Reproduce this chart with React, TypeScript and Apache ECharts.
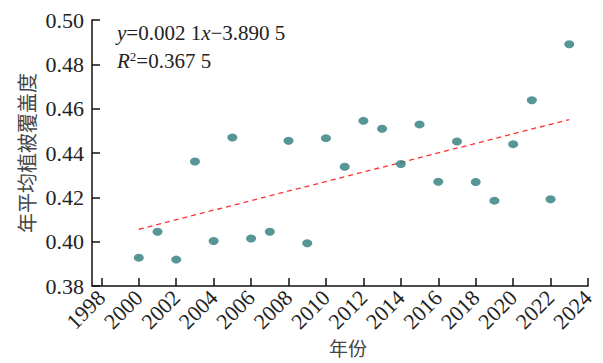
import React, { useEffect, useRef } from "react";
import * as echarts from "echarts";

const years = [2000, 2001, 2002, 2003, 2004, 2005, 2006, 2007, 2008, 2009, 2010, 2011, 2012, 2013, 2014, 2015, 2016, 2017, 2018, 2019, 2020, 2021, 2022, 2023];
const coverage = [0.3928, 0.4045, 0.3919, 0.4362, 0.4003, 0.447, 0.4014, 0.4045, 0.4455, 0.3993, 0.4467, 0.4338, 0.4545, 0.4509, 0.435, 0.4529, 0.427, 0.4452, 0.4269, 0.4185, 0.444, 0.4638, 0.4191, 0.4891];
const trendYears = [2000, 2023];
const trendValues = [0.4056, 0.4551];
const xTickLabels = [1998, 2000, 2002, 2004, 2006, 2008, 2010, 2012, 2014, 2016, 2018, 2020, 2022, 2024];
const equationText = "{i|y}=0.002 1{i|x}\u22123.890 5";
const r2Text = "{i|R}{sup|2}=0.367 5";

export default function App() {
  const ref = useRef<HTMLDivElement>(null);
  useEffect(() => {
    if (!ref.current) return;
    const chart = echarts.init(ref.current, null, { renderer: "svg" });
    const serif = "'Liberation Serif', 'Times New Roman', serif";
    const cjk = "'Noto Sans CJK SC', sans-serif";
    chart.setOption({
      animation: false,
      grid: { left: 84, right: 15, top: 12, bottom: 77, containLabel: false, outerBoundsMode: "none" },
      xAxis: {
        type: "value",
        min: 1997.5,
        max: 2024,
        name: "年份",
        nameLocation: "middle",
        nameGap: 52,
        nameMoveOverlap: false,
        nameTextStyle: { fontFamily: cjk, fontSize: 19, color: "#444", padding: [0, 0, 0, 16] },
        axisLine: { show: true, lineStyle: { color: "#111", width: 1.5 } },
        axisTick: { show: true, inside: true, length: 8, customValues: xTickLabels, lineStyle: { color: "#111", width: 1.5 } },
        axisLabel: { customValues: xTickLabels, rotate: 45, fontFamily: serif, fontSize: 22, color: "#222", margin: 8, formatter: (v: number) => String(v) },
        splitLine: { show: false },
      },
      yAxis: {
        type: "value",
        min: 0.38,
        max: 0.5,
        interval: 0.02,
        name: "年平均植被覆盖度",
        nameLocation: "middle",
        nameRotate: 90,
        nameGap: 56,
        nameMoveOverlap: false,
        nameTextStyle: { fontFamily: cjk, fontSize: 20, color: "#444" },
        axisLine: { show: true, lineStyle: { color: "#111", width: 1.5 } },
        axisTick: { show: true, inside: true, length: 8, lineStyle: { color: "#111", width: 1.5 } },
        axisLabel: { fontFamily: serif, fontSize: 22, color: "#222", margin: 8, formatter: (v: number) => v.toFixed(2) },
        splitLine: { show: false },
      },
      series: [
        {
          type: "scatter",
          data: years.map((y, i) => [y, coverage[i]]),
          symbol: "circle",
          symbolSize: [10, 8],
          itemStyle: { color: "#2d7c7c" },
          z: 3,
        },
        {
          type: "line",
          data: trendYears.map((y, i) => [y, trendValues[i]]),
          symbol: "none",
          lineStyle: { color: "#ff3030", width: 1.3, type: [5, 4] },
          z: 2,
        },
      ],
      graphic: [
        {
          type: "text",
          left: 109,
          top: 14,
          style: {
            text: equationText,
            font: `21px ${serif}`,
            fill: "#222",
            rich: { i: { fontStyle: "italic", fontSize: 21, fontFamily: serif, fill: "#222" } },
          },
        },
        {
          type: "text",
          left: 109,
          top: 42,
          style: {
            text: r2Text,
            font: `21px ${serif}`,
            fill: "#222",
            rich: {
              i: { fontStyle: "italic", fontSize: 21, fontFamily: serif, fill: "#222" },
              sup: { fontSize: 13, fontFamily: serif, fill: "#222", padding: [0, 0, 9, 0] },
            },
          },
        },
      ],
    });
    return () => chart.dispose();
  }, []);
  return <div ref={ref} style={{ width: 595, height: 355 }} />;
}
